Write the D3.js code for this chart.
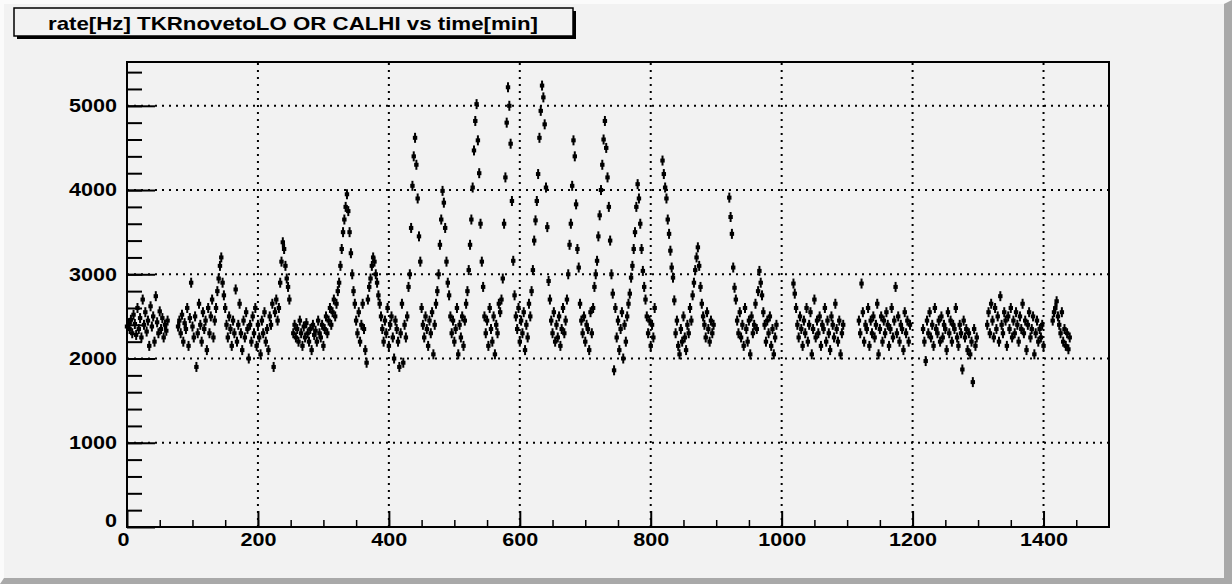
<!DOCTYPE html>
<html>
<head>
<meta charset="utf-8">
<script src="https://cdn.jsdelivr.net/npm/d3@7"></script>
<style>
body { margin: 0; background: #f2f2f2; }
text { font-family: "Liberation Sans", Arial, sans-serif; font-weight: bold; }
</style>
</head>
<body>
<script>
var width = 1232;
var height = 584;
var title = "rate[Hz] TKRnovetoLO OR CALHI vs time[min]";

// tick values
var xMajor = [0, 200, 400, 600, 800, 1000, 1200, 1400];
var yMajor = [0, 1000, 2000, 3000, 4000, 5000];

// orbit segments: start time [min], one sample every 2 min
var step = 2;
var segStart = [0, 78, 254, 818, 920, 1018, 1118, 1216, 1314, 1414];
var segRates = [
  // 0-62
  [2380,2420,2350,2460,2300,2520,2410,2280,2600,2350,2480,2250,2700,2400,2550,2320,
   2450,2150,2620,2380,2500,2200,2740,2430,2300,2560,2350,2480,2250,2400,2330,2450],
  // 78-248
  [2380,2450,2300,2520,2200,2420,2350,2600,2150,2480,
   2900,2380,2250,2500,1900,2300,2650,2400,2200,2550,
   2350,2450,2100,2600,2300,2500,2700,2250,2450,2600,
   2800,2950,3100,3200,2900,2750,2600,2400,
   2250,2500,2350,2150,2450,2300,2820,2200,2400,2650,
   2300,2100,2450,2250,2550,2350,2000,2400,2200,2500,
   2300,2600,2150,2400,2250,2050,2450,2300,2550,2200,
   2350,2100,2500,2400,2650,1900,2550,2700,2450,2600,
   2900,3150,3380,3300,3100,2950,2850,2700],
  // 254-806
  [2300,2400,2250,2350,2200,2450,2300,2150,2380,2250,
   2420,2300,2200,2350,2100,2400,2280,2330,2200,2450,
   2300,2250,2400,2150,2350,2500,2300,2450,2600,2400,
   2550,2700,2500,2650,2800,
   2900,3100,3300,3500,3650,3800,3950,3750,3500,3250,3000,2800,2650,
   2450,2300,2550,2200,2400,2650,2350,2100,1950,2700,
   2850,2950,3100,3200,3150,3000,2900,2750,2650,2500,
   2350,2200,2450,2300,2600,2150,2400,2500,2250,2000,2450,2350,2200,1900,2300,2650,1950,2400,2250,2500,
   2850,3000,3550,4050,4400,4620,4300,3900,3450,3150,
   2600,2400,2250,2500,2350,2150,2450,2300,2550,2050,2400,2650,
   2800,3000,3350,3650,3990,3850,3550,3150,2900,2750,
   2500,2300,2450,2200,2350,2600,2050,2400,2250,2500,2150,2450,2650,2800,
   3050,3350,3650,4030,4470,4820,5020,4590,4200,3600,3150,
   2850,2500,2300,2450,2150,2600,2350,2200,2500,2050,2400,2300,2650,2550,2700,
   2950,3600,4150,4800,5220,5000,4550,3870,3160,
   2750,2500,2350,2600,2200,2450,2300,2550,2100,2400,2250,2650,2500,2800,
   3050,3400,3640,3870,4190,4620,4940,5240,5100,4780,4030,3560,2920,
   2700,2450,2300,2550,2200,2400,2250,2500,2150,2350,2600,2300,2450,2700,
   3000,3350,3600,4050,4590,4400,3830,3300,3080,
   2650,2450,2300,2500,2200,2400,2350,2100,2550,2300,2600,2850,
   3000,3160,3450,3700,4000,4300,4600,4820,4500,4150,3800,3400,3000,2770,
   1860,2600,2250,2450,2100,2350,2550,2000,2400,2200,2500,2650,
   2770,2960,3100,3300,3500,3800,4070,3900,3600,3300,3040,2850,2700,
   2500,2300,2450,2150,2400,2250,2600],
  // 818-896
  [4350,4190,4030,3900,3650,3480,3280,3080,2960,2690,
   2300,2450,2150,2050,2350,2200,2500,2250,2100,2400,2300,2600,2450,2750,
   2900,3050,3200,3320,3100,2850,2650,2500,
   2400,2250,2550,2350,2200,2450,2300,2400],
  // 920-992
  [3910,3680,3480,3080,2840,2700,2450,2300,2550,2250,
   2400,2150,2600,2350,2200,2450,2050,2500,2300,2400,
   2650,2350,2800,3040,2900,2750,2550,2400,2200,2450,
   2300,2500,2150,2350,2050,2250,2400],
  // 1018-1094
  [2890,2770,2600,2400,2250,2500,2350,2150,2450,2300,
   2600,2200,2400,2550,2050,2350,2700,2250,2450,2300,
   2500,2150,2400,2350,2600,2200,2450,2300,2100,2500,
   2400,2250,2650,2350,2200,2450,2050,2300,2400],
  // 1118-1196
  [2450,2300,2890,2550,2200,2400,2350,2600,2150,2450,
   2300,2500,2250,2400,2650,2050,2350,2500,2200,2450,
   2300,2550,2400,2150,2350,2600,2250,2450,2850,2300,
   2500,2200,2400,2350,2100,2550,2300,2450,2200,2400],
  // 1216-1298
  [2350,2200,1970,2450,2300,2550,2250,2400,2150,2600,
   2350,2300,2450,2200,2500,2250,2400,2350,2100,2550,
   2300,2450,2200,2400,2350,2600,2250,2150,2400,2300,
   1870,2450,2250,2350,2100,2300,2050,2200,1720,2350,
   2150,2250],
  // 1314-1400
  [2400,2550,2300,2650,2450,2250,2600,2350,2500,2200,
   2740,2400,2300,2550,2450,2150,2500,2350,2600,2250,
   2450,2300,2550,2400,2200,2500,2350,2650,2300,2450,
   2100,2400,2550,2250,2350,2500,2050,2300,2450,2200,
   2350,2250,2400,2150],
  // 1414-1440
  [2450,2550,2600,2680,2500,2400,2300,2550,2200,2350,2150,2300,2110,2250]
];

var points = [];
segRates.forEach(function(r, i) {
  r.forEach(function(v, j) { points.push({t: segStart[i] + j * step, v: v}); });
});

var svg = d3.select('body').append('svg')
    .attr('width', width)
    .attr('height', height);

// canvas with bevel border
svg.append('rect').attr('width', width).attr('height', height).attr('fill', '#f2f2f2');
svg.append('path').attr('d', 'M0,0H1232L1224,4H4V580L0,584Z').attr('fill', '#fbfbfb');
svg.append('path').attr('d', 'M1232,0V584H0L4,578H1224V4Z').attr('fill', '#a9a9a9');

var x = d3.scaleLinear().domain([0, 1500]).range([127, 1109]);
var y = d3.scaleLinear().domain([0, 5520]).range([527, 62]);

// dotted grid
svg.append('g').selectAll('line').data(xMajor.slice(1)).enter().append('line')
    .attr('x1', function(d) { return x(d); })
    .attr('x2', function(d) { return x(d); })
    .attr('y1', y.range()[0]).attr('y2', y.range()[1])
    .attr('stroke', '#000').attr('stroke-width', 2).attr('stroke-dasharray', '2,5');
svg.append('g').selectAll('line').data(yMajor.slice(1)).enter().append('line')
    .attr('y1', function(d) { return y(d); })
    .attr('y2', function(d) { return y(d); })
    .attr('x1', x.range()[0]).attr('x2', x.range()[1])
    .attr('stroke', '#000').attr('stroke-width', 2).attr('stroke-dasharray', '2,5');

// minor ticks
svg.append('g').attr('transform', 'translate(0,527)')
    .call(d3.axisBottom(x).tickValues(d3.range(50, 1500, 50)).tickSize(-7).tickSizeOuter(0).tickFormat(''))
    .call(function(g) { g.select('.domain').remove(); g.selectAll('line').attr('stroke-width', 1.5); });
svg.append('g').attr('transform', 'translate(127,0)')
    .call(d3.axisLeft(y).tickValues(d3.range(200, 5500, 200)).tickSize(-15).tickSizeOuter(0).tickFormat(''))
    .call(function(g) { g.select('.domain').remove(); g.selectAll('line').attr('stroke-width', 2); });

// major ticks + labels
var fmt = d3.format('d');
var xAxis = svg.append('g').attr('transform', 'translate(0,527)')
    .call(d3.axisBottom(x).tickValues(xMajor).tickFormat(fmt).tickSize(-16).tickSizeOuter(0).tickPadding(6));
var yAxis = svg.append('g').attr('transform', 'translate(127,0)')
    .call(d3.axisLeft(y).tickValues(yMajor).tickFormat(fmt).tickSize(-28).tickSizeOuter(0).tickPadding(10));

[xAxis, yAxis].forEach(function(g) {
  g.select('.domain').remove();
  g.selectAll('line').attr('stroke-width', 2);
  g.selectAll('text')
      .attr('font-size', 18)
      .attr('fill', '#000')
      .attr('textLength', function(d) { return fmt(d).length * 12; })
      .attr('lengthAdjust', 'spacingAndGlyphs');
});
xAxis.selectAll('text').filter(function(d) { return d === 0; }).attr('dx', -4);
yAxis.selectAll('text').filter(function(d) { return d === 0; }).attr('dy', '-0.05em');

// frame
svg.append('rect')
    .attr('x', 127).attr('y', 62)
    .attr('width', 1109 - 127).attr('height', 527 - 62)
    .attr('fill', 'none').attr('stroke', '#000').attr('stroke-width', 2);

// points with error bars
var pts = svg.append('g');
pts.selectAll('line').data(points).enter().append('line')
    .attr('x1', function(d) { return x(d.t); })
    .attr('x2', function(d) { return x(d.t); })
    .attr('y1', function(d) { return y(d.v) - 5; })
    .attr('y2', function(d) { return y(d.v) + 5; })
    .attr('stroke', '#000').attr('stroke-width', 2);
pts.selectAll('rect').data(points).enter().append('rect')
    .attr('x', function(d) { return x(d.t) - 2.2; })
    .attr('y', function(d) { return y(d.v) - 2; })
    .attr('width', 4.4).attr('height', 4)
    .attr('fill', '#000');

// title box
svg.append('rect').attr('x', 17).attr('y', 11).attr('width', 559).attr('height', 28).attr('fill', '#000');
svg.append('rect').attr('x', 14).attr('y', 8).attr('width', 559).attr('height', 28)
    .attr('fill', '#f2f2f2').attr('stroke', '#000').attr('stroke-width', 1.5);
svg.append('text')
    .attr('x', 293).attr('y', 30)
    .attr('text-anchor', 'middle')
    .attr('font-size', 19)
    .attr('textLength', 490)
    .attr('lengthAdjust', 'spacingAndGlyphs')
    .text(title);
</script>
</body>
</html>
